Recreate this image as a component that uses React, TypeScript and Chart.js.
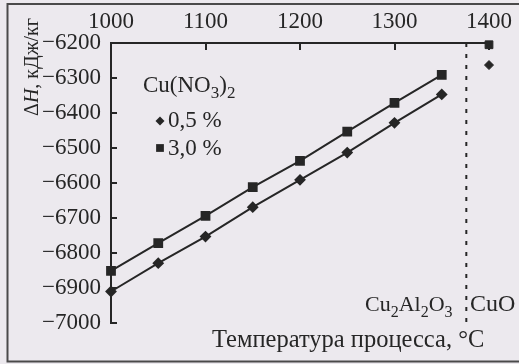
import { useEffect, useRef } from 'react';
import { Chart, registerables } from 'chart.js';

Chart.register(...registerables);

// ---- data ----
const temperatures = [1000, 1050, 1100, 1150, 1200, 1250, 1300, 1350];
const dH05 = [-6910, -6829, -6753, -6669, -6591, -6513, -6428, -6347];
const dH30 = [-6851, -6772, -6694, -6612, -6537, -6453, -6371, -6291];
const cuoTemperature = [1400];
const cuoDH05 = [-6263];
const cuoDH30 = [-6205];
const phaseBoundary = [1376];
const xTicks = [1000, 1100, 1200, 1300, 1400];
const yTicks = [-6200, -6300, -6400, -6500, -6600, -6700, -6800, -6900, -7000];
const seriesLabels = ['0,5 %', '3,0 %'];

const BG = '#ece9ee';
const INK = '#262626';
const FONT = "'Liberation Serif', 'Times New Roman', serif";
const FS = 23;

type Part = { t: string; sub?: boolean; italic?: boolean };

function drawRich(ctx: CanvasRenderingContext2D, parts: Part[], x: number, y: number, size: number) {
  let cx = x;
  for (const p of parts) {
    const s = p.sub ? Math.round(size * 0.72) : size;
    ctx.font = `${p.italic ? 'italic ' : ''}${s}px ${FONT}`;
    ctx.fillText(p.t, cx, y + (p.sub ? size * 0.26 : 0));
    cx += ctx.measureText(p.t).width;
  }
}

function richWidth(ctx: CanvasRenderingContext2D, parts: Part[], size: number) {
  let w = 0;
  for (const p of parts) {
    const s = p.sub ? Math.round(size * 0.72) : size;
    ctx.font = `${p.italic ? 'italic ' : ''}${s}px ${FONT}`;
    w += ctx.measureText(p.t).width;
  }
  return w;
}

function marker(ctx: CanvasRenderingContext2D, style: string, x: number, y: number, r: number) {
  ctx.beginPath();
  if (style === 'rect') {
    const h = r * Math.SQRT1_2;
    ctx.rect(x - h, y - h, 2 * h, 2 * h);
  } else {
    ctx.moveTo(x, y - r);
    ctx.lineTo(x + r, y);
    ctx.lineTo(x, y + r);
    ctx.lineTo(x - r, y);
    ctx.closePath();
  }
  ctx.fill();
}

const decorPlugin = {
  id: 'decor',
  beforeDraw(chart: any) {
    const { ctx, width, height } = chart;
    ctx.save();
    ctx.fillStyle = BG;
    ctx.fillRect(0, 0, width, height);
    ctx.strokeStyle = '#4a4a4a';
    ctx.lineWidth = 2;
    ctx.beginPath();
    ctx.moveTo(width, 4);
    ctx.lineTo(7.5, 4);
    ctx.lineTo(7.5, 361.5);
    ctx.lineTo(width, 361.5);
    ctx.stroke();
    ctx.restore();
  },
  afterDraw(chart: any) {
    const { ctx, chartArea } = chart;
    const xs = chart.scales.x;
    const ys = chart.scales.y;
    ctx.save();
    ctx.strokeStyle = INK;
    ctx.fillStyle = INK;
    ctx.lineWidth = 2;
    // inward tick marks
    ctx.beginPath();
    for (const v of xTicks) {
      const px = Math.round(xs.getPixelForValue(v));
      ctx.moveTo(px, chartArea.top);
      ctx.lineTo(px, chartArea.top + 7);
    }
    for (const v of yTicks) {
      const py = Math.round(ys.getPixelForValue(v));
      ctx.moveTo(chartArea.left, py);
      ctx.lineTo(chartArea.left + 6, py);
    }
    ctx.stroke();

    ctx.textAlign = 'left';
    ctx.textBaseline = 'alphabetic';
    // legend
    drawRich(ctx, [{ t: 'Cu(NO' }, { t: '3', sub: true }, { t: ')' }, { t: '2', sub: true }], 143, 92, FS);
    marker(ctx, 'rectRot', 160, 121, 4.5);
    marker(ctx, 'rect', 160, 148, 5.5);
    drawRich(ctx, [{ t: seriesLabels[0] }], 168, 127, FS);
    drawRich(ctx, [{ t: seriesLabels[1] }], 168, 155, FS);
    // phase labels
    drawRich(ctx, [{ t: 'Cu' }, { t: '2', sub: true }, { t: 'Al' }, { t: '2', sub: true }, { t: 'O' }, { t: '3', sub: true }], 365, 311, 22);
    drawRich(ctx, [{ t: 'CuO' }], 470, 311, 24);
    // x title
    drawRich(ctx, [{ t: 'Температура процесса, °C' }], 212, 347, 24.5);
    // y title (rotated)
    const yParts: Part[] = [{ t: 'Δ' }, { t: 'H', italic: true }, { t: ', кДж/кг' }];
    const w = richWidth(ctx, yParts, 20);
    ctx.translate(38, 67);
    ctx.rotate(-Math.PI / 2);
    drawRich(ctx, yParts, -w / 2, 0, 20);
    ctx.restore();
  },
};

export default function App() {
  const ref = useRef<HTMLCanvasElement>(null);
  useEffect(() => {
    const pts = (xs: number[], ys: number[]) => xs.map((x, i) => ({ x, y: ys[i] }));
    const chart = new Chart(ref.current!, {
      type: 'scatter',
      data: {
        datasets: [
          {
            label: seriesLabels[0],
            data: pts(temperatures, dH05),
            showLine: true,
            borderColor: INK,
            backgroundColor: INK,
            borderWidth: 2,
            pointStyle: 'rectRot',
            pointRadius: 4.5,
            clip: false,
          },
          {
            label: seriesLabels[1],
            data: pts(temperatures, dH30),
            showLine: true,
            borderColor: INK,
            backgroundColor: INK,
            borderWidth: 2,
            pointStyle: 'rect',
            pointRadius: 5.5,
            clip: false,
          },
          {
            label: 'CuO 0,5 %',
            data: pts(cuoTemperature, cuoDH05),
            showLine: false,
            borderColor: INK,
            backgroundColor: INK,
            pointStyle: 'rectRot',
            pointRadius: 4.5,
            clip: false,
          },
          {
            label: 'CuO 3,0 %',
            data: pts(cuoTemperature, cuoDH30),
            showLine: false,
            borderColor: INK,
            backgroundColor: INK,
            pointStyle: 'rect',
            pointRadius: 5.5,
            clip: false,
          },
          {
            label: 'boundary',
            data: [
              { x: phaseBoundary[0], y: yTicks[0] },
              { x: phaseBoundary[0], y: yTicks[yTicks.length - 1] },
            ],
            showLine: true,
            borderColor: INK,
            borderWidth: 2,
            borderDash: [4, 7],
            pointRadius: 0,
            clip: false,
          },
        ],
      },
      options: {
        responsive: false,
        animation: false,
        devicePixelRatio: 1,
        layout: { padding: { left: 0, top: 0, right: 29, bottom: 41 } },
        plugins: { legend: { display: false }, tooltip: { enabled: false } },
        scales: {
          x: {
            type: 'linear',
            position: 'top',
            min: 1000,
            max: 1400,
            afterFit: (s: any) => { s.height = 43; },
            afterBuildTicks: (s: any) => { s.ticks = xTicks.map((v) => ({ value: v })); },
            grid: { display: false, drawTicks: false },
            border: { display: true, color: INK, width: 2 },
            ticks: {
              color: INK,
              font: { family: FONT, size: FS },
              padding: 7,
              maxRotation: 0,
              autoSkip: false,
              callback: (v: any) => String(v),
            },
          },
          y: {
            type: 'linear',
            position: 'left',
            min: -7000,
            max: -6200,
            afterFit: (s: any) => { s.width = 111; },
            afterBuildTicks: (s: any) => { s.ticks = yTicks.map((v) => ({ value: v })); },
            grid: { display: false, drawTicks: false },
            border: { display: true, color: INK, width: 2 },
            ticks: {
              color: INK,
              font: { family: FONT, size: FS },
              padding: 10,
              autoSkip: false,
              callback: (v: any) => '\u2212' + Math.abs(Number(v)),
            },
          },
        },
      },
      plugins: [decorPlugin],
    });
    return () => chart.destroy();
  }, []);
  return (
    <div style={{ position: 'fixed', left: 0, top: 0, width: 519, height: 364, background: BG }}>
      <canvas ref={ref} width={519} height={364} style={{ display: 'block', width: 519, height: 364 }} />
    </div>
  );
}
